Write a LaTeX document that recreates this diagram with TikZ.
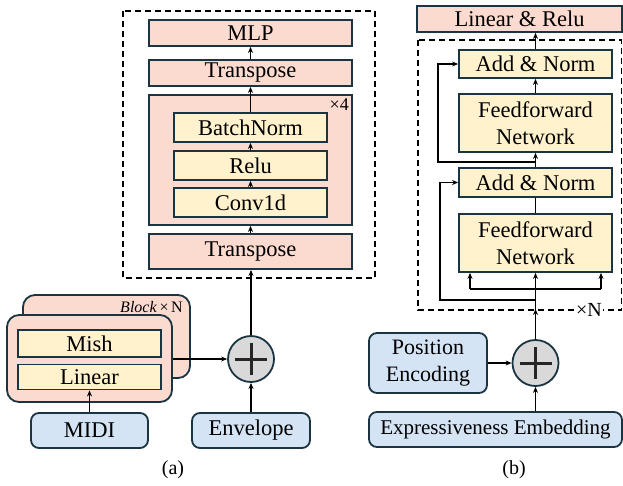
\documentclass[tikz,border=0pt]{standalone}
\usepackage{fontspec}
\setmainfont{Liberation Serif}
\newfontfamily\tnr{Liberation Serif}
\usetikzlibrary{arrows.meta}
\definecolor{pinkf}{HTML}{FBDAD0}
\definecolor{yelf}{HTML}{FFF2CC}
\definecolor{bluef}{HTML}{D5E4F4}
\definecolor{bord}{HTML}{1A3442}
\definecolor{circf}{HTML}{D9D9D9}
\begin{document}
\begin{tikzpicture}[x=1pt,y=-1pt,
 box/.style={draw=bord,line width=1.8pt,inner sep=0pt,font=\tnr\fontsize{22.5}{27}\selectfont,align=center},
 pinkbox/.style={box,fill=pinkf},
 yelbox/.style={box,fill=yelf},
 bluebox/.style={box,fill=bluef,rounded corners=8pt},
 blockbox/.style={box,fill=pinkf,rounded corners=12pt},
 arr/.style={line width=1.3pt,-{Stealth[length=6pt,width=5pt]}},
 ln/.style={line width=1.3pt},
 dbox/.style={draw=black,line width=1.4pt,dash pattern=on 6pt off 4pt},
 sumc/.style={circle,draw=bord,fill=circf,line width=1.8pt,minimum size=46pt,inner sep=0pt},
 plus/.style={line width=3pt,draw=black!85},
 lbl/.style={font=\tnr\fontsize{20}{24}\selectfont}]
\useasboundingbox (0,0) rectangle (623,485);

% ---------------- (a) ----------------
\draw[dbox] (123,11) rectangle (375,278);
\node[pinkbox,minimum width=203pt,minimum height=26pt] (mlp) at (250.5,33) {MLP};
\node[pinkbox,minimum width=203pt,minimum height=26pt] (tr1) at (250.5,73) {Transpose};
\node[pinkbox,minimum width=203pt,minimum height=130pt] (big) at (250.5,160) {};
\node[font=\tnr\fontsize{18}{20}\selectfont,anchor=north east,inner sep=1pt] (x4) at (350,97) {×4};
\node[yelbox,minimum width=153pt,minimum height=29pt] (bn) at (250.5,127.5) {BatchNorm};
\node[yelbox,minimum width=153pt,minimum height=29pt] (relu) at (250.5,165.5) {Relu};
\node[yelbox,minimum width=153pt,minimum height=29pt] (conv) at (250.5,202.5) {Conv1d};
\node[pinkbox,minimum width=203pt,minimum height=35pt] (tr2) at (250.5,251.5) {Transpose};

\draw[arr] (tr2.north) -- (big.south);
\draw[arr] (conv.north) -- (relu.south);
\draw[arr] (relu.north) -- (bn.south);
\draw[arr] (bn.north) -- (tr1.south);
\draw[arr] (tr1.north) -- (mlp.south);

\node[blockbox,minimum width=167pt,minimum height=83pt] (back) at (106.5,336.5) {};
\node[font=\tnr\fontsize{16}{18}\selectfont,anchor=east,inner sep=0pt] (blk) at (183,307) {\textit{Block}\,×\,N};
\node[blockbox,minimum width=165pt,minimum height=87pt] (front) at (89.5,358.5) {};
\node[yelbox,minimum width=143pt,minimum height=27pt] (mish) at (89.5,343.5) {Mish};
\node[yelbox,minimum width=143pt,minimum height=25pt] (lin) at (89.5,377) {Linear};
\node[bluebox,minimum width=117pt,minimum height=35pt] (midi) at (89.5,430.5) {MIDI};
\node[bluebox,minimum width=118pt,minimum height=35pt] (env) at (251,430.5) {Envelope};
\node[sumc] (ca) at (251,359) {};
\draw[plus] ([xshift=-16pt]ca.center) -- ([xshift=16pt]ca.center);
\draw[plus] ([yshift=-16pt]ca.center) -- ([yshift=16pt]ca.center);

\draw[arr] (midi.north) -- (lin.south);
\draw[arr] (env.north -| ca) -- (ca.south);
\draw[arr] (front.east |- ca) -- (ca.west);
\draw[arr] (ca.north) -- (ca.north |- tr2.south);
\node[lbl] (la) at (173,470) {(a)};

% ---------------- (b) ----------------
\node[pinkbox,minimum width=205pt,minimum height=26pt] (lr) at (519.5,19) {Linear \& Relu};
\draw[dbox] (418,40) rectangle (621.5,310);
\node[yelbox,minimum width=153pt,minimum height=28pt] (an1) at (535.5,64) {Add \& Norm};
\node[yelbox,minimum width=153pt,minimum height=58pt] (ffn1) at (535.5,123) {Feedforward\\Network};
\node[yelbox,minimum width=153pt,minimum height=29pt] (an2) at (535.5,182.5) {Add \& Norm};
\node[yelbox,minimum width=153pt,minimum height=58pt] (ffn2) at (535.5,243) {Feedforward\\Network};

\draw[arr] (an1.north) -- (lr.south -| an1);
\draw[arr] (ffn1.north) -- (an1.south);
\draw[arr] (an2.north) -- (ffn1.south);
\draw[ln] (ffn2.north) -- (an2.south);

\coordinate (s1) at (535.5,162);
\coordinate (s1l) at (438,162);
\draw[arr] (s1) -- (s1l) |- (an1.west);

\node[sumc] (cb) at (535.5,363) {};
\draw[plus] ([xshift=-16pt]cb.center) -- ([xshift=16pt]cb.center);
\draw[plus] ([yshift=-16pt]cb.center) -- ([yshift=16pt]cb.center);

\coordinate (br) at (535.5,289);
\coordinate (bl) at (470,289);
\coordinate (brr) at (601,289);
\coordinate (sk) at (535.5,300);
\coordinate (skl) at (440,300);
\draw[ln] (cb.north) -- (br);
\draw[arr] (cb.north) -- ([yshift=1pt]cb.north |- 0,310);
\draw[ln] (bl) -- (brr);
\draw[arr] (bl) -- (bl |- ffn2.south);
\draw[arr] (br) -- (ffn2.south);
\draw[arr] (brr) -- (brr |- ffn2.south);
\draw[arr] (sk) -- (skl) |- (an2.west);

\node[fill=white,inner sep=1.5pt,font=\tnr\fontsize{20}{22}\selectfont] (xn) at (589,310) {×N};

\node[bluebox,minimum width=118pt,minimum height=60pt,font=\tnr\fontsize{22}{27}\selectfont] (pe) at (428,363) {Position\\Encoding};
\node[bluebox,minimum width=253pt,minimum height=35pt,font=\tnr\fontsize{21}{25}\selectfont] (expr) at (495.5,429.5) {Expressiveness Embedding};
\draw[arr] (pe.east) -- (cb.west);
\draw[arr] (expr.north -| cb) -- (cb.south);
\node[lbl] (lb) at (514,470) {(b)};
\end{tikzpicture}
\end{document}
